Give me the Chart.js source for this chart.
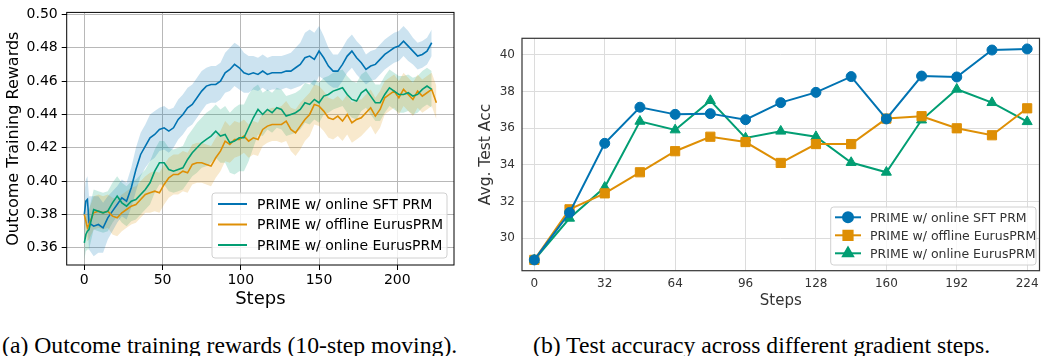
<!DOCTYPE html>
<html>
<head>
<meta charset="utf-8">
<script src="https://cdn.jsdelivr.net/npm/chart.js@4.4.1/dist/chart.umd.min.js"></script>
<style>
  body { margin: 0; background: #fff; width: 1047px; height: 356px; position: relative; overflow: hidden; }
  .box { position: absolute; }
  .cap { position: absolute; top: 333px; line-height: 24px; font-family: "Liberation Serif", "DejaVu Serif", serif; font-size: 23.7px; color: #000; white-space: nowrap; }
</style>
</head>
<body>
<div class="box" style="left:0;top:0;width:460px;height:310px"><canvas id="rewardChart" width="460" height="310"></canvas></div>
<div class="box" style="left:470px;top:0;width:577px;height:310px"><canvas id="accChart" width="577" height="310"></canvas></div>
<div class="cap" id="capA" style="left:2px">(a) Outcome training rewards (10-step moving).</div>
<div class="cap" id="capB" style="left:533px">(b) Test accuracy across different gradient steps.</div>

<script>
// ---- (a) training rewards, 10-step moving average (read every ~3 steps)
const rewardSteps = [0, 1, 2, 3, 6, 9, 12, 15, 18, 21,
  24, 27, 30, 33, 36, 39, 42, 45, 48, 51,
  54, 57, 60, 63, 66, 69, 72, 75, 78, 81,
  84, 87, 90, 93, 96, 99, 102, 105, 108, 111,
  114, 117, 120, 123, 126, 129, 132, 135, 138, 141,
  144, 147, 150, 153, 156, 159, 162, 165, 168, 171,
  174, 177, 180, 183, 186, 189, 192, 195, 198, 201,
  204, 207, 210, 213, 216, 219, 222, 225];

const sftReward = [0.380, 0.388, 0.389, 0.375, 0.373, 0.374, 0.372, 0.378, 0.382, 0.386,
  0.390, 0.388, 0.396, 0.407, 0.416, 0.421, 0.426, 0.428, 0.431, 0.432,
  0.430, 0.432, 0.437, 0.440, 0.444, 0.446, 0.450, 0.454, 0.457, 0.458,
  0.458, 0.460, 0.465, 0.467, 0.470, 0.468, 0.465, 0.464, 0.465, 0.464,
  0.466, 0.464, 0.465, 0.465, 0.465, 0.466, 0.466, 0.468, 0.470, 0.474,
  0.475, 0.473, 0.478, 0.474, 0.469, 0.466, 0.466, 0.470, 0.475, 0.478,
  0.474, 0.471, 0.467, 0.469, 0.470, 0.473, 0.476, 0.478, 0.480, 0.481,
  0.484, 0.481, 0.478, 0.475, 0.476, 0.478, 0.483];
const sftSpread = [0.012, 0.013, 0.014, 0.016, 0.018, 0.017, 0.015, 0.013, 0.012, 0.011,
  0.011, 0.011, 0.012, 0.013, 0.013, 0.013, 0.014, 0.014, 0.013, 0.013,
  0.013, 0.012, 0.012, 0.012, 0.012, 0.012, 0.012, 0.012, 0.011, 0.011,
  0.011, 0.011, 0.012, 0.013, 0.013, 0.013, 0.012, 0.011, 0.010, 0.010,
  0.010, 0.010, 0.010, 0.010, 0.010, 0.010, 0.011, 0.012, 0.013, 0.015,
  0.016, 0.016, 0.015, 0.013, 0.011, 0.010, 0.010, 0.010, 0.010, 0.010,
  0.010, 0.010, 0.009, 0.009, 0.009, 0.009, 0.009, 0.009, 0.009, 0.009,
  0.009, 0.009, 0.008, 0.008, 0.008, 0.008, 0.008];

const offlineReward = [0.380, 0.376, 0.372, 0.374, 0.381, 0.382, 0.381, 0.382, 0.379, 0.378,
  0.381, 0.383, 0.385, 0.386, 0.389, 0.392, 0.393, 0.394, 0.393, 0.398,
  0.402, 0.404, 0.404, 0.406, 0.405, 0.410, 0.411, 0.411, 0.410, 0.409,
  0.414, 0.418, 0.424, 0.422, 0.425, 0.425, 0.427, 0.424, 0.426, 0.425,
  0.431, 0.433, 0.434, 0.434, 0.434, 0.436, 0.431, 0.429, 0.433, 0.437,
  0.440, 0.446, 0.445, 0.442, 0.438, 0.437, 0.439, 0.436, 0.440, 0.435,
  0.437, 0.438, 0.441, 0.444, 0.439, 0.443, 0.450, 0.452, 0.454, 0.450,
  0.455, 0.452, 0.449, 0.454, 0.451, 0.453, 0.455, 0.447];
const offlineSpread = [0.008, 0.008, 0.008, 0.009, 0.010, 0.010, 0.010, 0.010, 0.011, 0.011,
  0.011, 0.011, 0.011, 0.011, 0.011, 0.011, 0.012, 0.012, 0.012, 0.012,
  0.012, 0.012, 0.012, 0.012, 0.012, 0.012, 0.012, 0.012, 0.012, 0.012,
  0.012, 0.012, 0.012, 0.011, 0.011, 0.010, 0.010, 0.010, 0.010, 0.010,
  0.010, 0.010, 0.010, 0.010, 0.011, 0.012, 0.013, 0.014, 0.014, 0.013,
  0.013, 0.012, 0.012, 0.012, 0.012, 0.012, 0.012, 0.012, 0.012, 0.012,
  0.012, 0.011, 0.011, 0.011, 0.011, 0.011, 0.010, 0.010, 0.010, 0.010,
  0.010, 0.010, 0.010, 0.010, 0.010, 0.010, 0.010, 0.010];

const onlineReward = [0.363, 0.368, 0.370, 0.371, 0.383, 0.382, 0.381, 0.382, 0.387, 0.391,
  0.387, 0.385, 0.388, 0.389, 0.392, 0.395, 0.399, 0.406, 0.411, 0.411,
  0.407, 0.406, 0.407, 0.408, 0.413, 0.417, 0.420, 0.423, 0.425, 0.427,
  0.430, 0.427, 0.428, 0.423, 0.424, 0.426, 0.426, 0.432, 0.438, 0.443,
  0.440, 0.443, 0.441, 0.444, 0.443, 0.439, 0.440, 0.441, 0.443, 0.447,
  0.446, 0.449, 0.447, 0.451, 0.452, 0.454, 0.455, 0.456, 0.452, 0.449,
  0.448, 0.453, 0.455, 0.451, 0.447, 0.447, 0.452, 0.456, 0.454, 0.452,
  0.452, 0.453, 0.451, 0.452, 0.455, 0.457, 0.455];
const onlineSpread = [0.010, 0.010, 0.011, 0.012, 0.012, 0.012, 0.012, 0.012, 0.012, 0.012,
  0.012, 0.012, 0.012, 0.012, 0.012, 0.012, 0.013, 0.013, 0.013, 0.013,
  0.013, 0.013, 0.013, 0.013, 0.014, 0.014, 0.015, 0.015, 0.016, 0.016,
  0.016, 0.016, 0.017, 0.018, 0.020, 0.020, 0.020, 0.020, 0.018, 0.015,
  0.013, 0.012, 0.012, 0.012, 0.012, 0.012, 0.012, 0.012, 0.012, 0.012,
  0.012, 0.012, 0.012, 0.011, 0.011, 0.011, 0.011, 0.011, 0.011, 0.011,
  0.011, 0.011, 0.011, 0.011, 0.011, 0.011, 0.011, 0.011, 0.011, 0.011,
  0.011, 0.011, 0.011, 0.011, 0.011, 0.011, 0.011];

const rewardXTicks = [0, 50, 100, 150, 200];
const rewardYTicks = [0.36, 0.38, 0.40, 0.42, 0.44, 0.46, 0.48, 0.50];

// ---- (b) test accuracy
const accSteps = [0, 16, 32, 48, 64, 80, 96, 112, 128, 144, 160, 176, 192, 208, 224];
const sftAcc = [28.82, 31.40, 35.18, 37.15, 36.76, 36.80, 36.47, 37.40, 37.96, 38.82, 36.51, 38.85, 38.80, 40.27, 40.33];
const offlineAcc = [28.82, 31.58, 32.45, 33.60, 34.75, 35.54, 35.25, 34.11, 35.14, 35.14, 36.53, 36.66, 36.00, 35.62, 37.09];
const onlineAcc = [28.82, 31.09, 32.78, 36.38, 35.91, 37.51, 35.47, 35.84, 35.54, 34.13, 33.60, 36.45, 38.13, 37.40, 36.36];
const accXTicks = [0, 32, 64, 96, 128, 160, 192, 224];
const accYTicks = [30, 32, 34, 36, 38, 40];

const labels = ["PRIME w/ online SFT PRM", "PRIME w/ offline EurusPRM", "PRIME w/ online EurusPRM"];
const BLUE = "#0173b2", ORANGE = "#de8f05", GREEN = "#029e73";

const pts = (xs, ys) => ys.map((v, i) => ({x: xs[i], y: v}));
const band = (xs, ys, sp, sign) => ys.map((v, i) => ({x: xs[i], y: v + sign * sp[i]}));
const setTicks = vals => (scale => { scale.ticks = vals.map(v => ({value: v})); });

// frame around the plot area + legend inside it
const framePlugin = {
  id: "frame",
  afterDraw(chart, args, opts) {
    const {ctx, chartArea: a} = chart;
    ctx.save();
    ctx.strokeStyle = opts.color;
    ctx.lineWidth = opts.width;
    ctx.strokeRect(a.left, a.top, a.right - a.left, a.bottom - a.top);
    ctx.restore();
  }
};

const insideLegend = {
  id: "insideLegend",
  afterDraw(chart, args, o) {
    const ctx = chart.ctx;
    ctx.save();
    ctx.fillStyle = "rgba(255,255,255,0.8)";
    ctx.strokeStyle = "#d0d0d0";
    ctx.lineWidth = 1;
    ctx.beginPath();
    ctx.roundRect(o.x, o.y, o.w, o.h, 3);
    ctx.fill();
    ctx.stroke();
    ctx.font = o.font;
    ctx.textBaseline = "middle";
    const sets = chart.data.datasets.filter(d => d.inLegend);
    sets.forEach((d, i) => {
      const y = o.rows[i];
      ctx.strokeStyle = d.borderColor;
      ctx.lineWidth = 2;
      ctx.beginPath();
      ctx.moveTo(o.x1, y);
      ctx.lineTo(o.x2, y);
      ctx.stroke();
      if (d.pointRadius > 0) {
        ctx.fillStyle = d.borderColor;
        Chart.helpers.drawPoint(ctx, {pointStyle: d.pointStyle, radius: d.pointRadius, borderWidth: 1}, (o.x1 + o.x2) / 2, y);
        ctx.fill();
      }
      ctx.fillStyle = o.color;
      ctx.fillText(d.label, o.tx, y + 1);
    });
    ctx.restore();
  }
};

Chart.defaults.font.family = "'DejaVu Sans', sans-serif";
Chart.defaults.animation = false;

// ---------- left chart
function lineSet(label, color, xs, ys, order) {
  return {label, data: pts(xs, ys), borderColor: color, borderWidth: 1.6, pointRadius: 0,
    fill: false, tension: 0, order, inLegend: true};
}
function bandSets(color, xs, ys, sp) {
  return [
    {data: band(xs, ys, sp, 1), borderWidth: 0, pointRadius: 0, fill: false, order: 10},
    {data: band(xs, ys, sp, -1), borderWidth: 0, pointRadius: 0, fill: "-1", backgroundColor: color, order: 10}
  ];
}

new Chart(document.getElementById("rewardChart"), {
  type: "line",
  data: {
    datasets: [
      ...bandSets("rgba(1,115,178,0.2)", rewardSteps, sftReward, sftSpread),
      ...bandSets("rgba(222,143,5,0.2)", rewardSteps, offlineReward, offlineSpread),
      ...bandSets("rgba(2,158,115,0.2)", rewardSteps, onlineReward, onlineSpread),
      lineSet(labels[0], BLUE, rewardSteps, sftReward, 3),
      lineSet(labels[1], ORANGE, rewardSteps, offlineReward, 2),
      lineSet(labels[2], GREEN, rewardSteps, onlineReward, 1)
    ]
  },
  options: {
    responsive: false,
    layout: {padding: {top: 9, right: 6, left: 0, bottom: 0}},
    scales: {
      x: {
        type: "linear", min: -11.25, max: 236.25,
        afterBuildTicks: setTicks(rewardXTicks),
        afterFit: s => { s.height = 45; },
        ticks: {color: "#000", font: {size: 14}, padding: 2, maxRotation: 0, callback: v => String(v)},
        grid: {color: "#b8b8b8", lineWidth: 1, tickColor: "#000", tickLength: 5},
        border: {display: false},
        title: {display: true, text: "Steps", color: "#000", font: {size: 18}, padding: 0}
      },
      y: {
        type: "linear", min: 0.3497, max: 0.5012,
        afterBuildTicks: setTicks(rewardYTicks),
        afterFit: s => { s.width = 66.7; },
        ticks: {color: "#000", font: {size: 14}, padding: 4, callback: v => v.toFixed(2)},
        grid: {color: "#b8b8b8", lineWidth: 1, tickColor: "#000", tickLength: 5},
        border: {display: false},
        title: {display: true, text: "Outcome Training Rewards", color: "#000", font: {size: 16}, padding: {top: 4, bottom: 0}}
      }
    },
    plugins: {
      legend: {display: false},
      tooltip: {enabled: false},
      filler: {drawTime: "beforeDatasetsDraw"},
      frame: {color: "#000", width: 1},
      insideLegend: {x: 212, y: 193, w: 235, h: 65, rows: [204, 224.5, 245], x1: 218, x2: 247, tx: 257,
        font: "14px 'DejaVu Sans'", color: "#000"}
    }
  },
  plugins: [framePlugin, insideLegend]
});

// ---------- right chart
function accSet(label, color, ys, style, radius, order) {
  return {label, data: pts(accSteps, ys), borderColor: color, backgroundColor: color, borderWidth: 2,
    pointStyle: style, pointRadius: radius, pointBorderWidth: 1, pointBorderColor: color,
    fill: false, tension: 0, order, inLegend: true};
}

new Chart(document.getElementById("accChart"), {
  type: "line",
  data: {
    datasets: [
      accSet(labels[0], BLUE, sftAcc, "circle", 5, 1),
      accSet(labels[1], ORANGE, offlineAcc, "rect", 6.5, 2),
      accSet(labels[2], GREEN, onlineAcc, "triangle", 5.8, 3)
    ]
  },
  options: {
    responsive: false,
    layout: {padding: {top: 38.3, right: 5, left: 0, bottom: 0}},
    scales: {
      x: {
        type: "linear", min: -5.6, max: 229.6,
        afterBuildTicks: setTicks(accXTicks),
        afterFit: s => { s.height = 39.3; },
        ticks: {color: "#333", font: {size: 12}, padding: 6, maxRotation: 0, callback: v => String(v)},
        grid: {color: "#dcdcdc", lineWidth: 1, drawTicks: false},
        border: {display: false},
        title: {display: true, text: "Steps", color: "#333", font: {size: 15}, padding: 0}
      },
      y: {
        type: "linear", min: 28.23, max: 40.91,
        afterBuildTicks: setTicks(accYTicks),
        afterFit: s => { s.width = 52; },
        ticks: {color: "#333", font: {size: 12}, padding: 7, callback: v => String(v)},
        grid: {color: "#dcdcdc", lineWidth: 1, drawTicks: false},
        border: {display: false},
        title: {display: true, text: "Avg. Test Acc", color: "#333", font: {size: 15.5}, padding: {top: 7, bottom: 0}}
      }
    },
    plugins: {
      legend: {display: false},
      tooltip: {enabled: false},
      frame: {color: "#333", width: 1.2},
      insideLegend: {x: 360.7, y: 207, w: 205.3, h: 58, rows: [217.3, 235.3, 253.3], x1: 365, x2: 391, tx: 400,
        font: "12.5px 'DejaVu Sans'", color: "#333"}
    }
  },
  plugins: [framePlugin, insideLegend]
});
</script>
</body>
</html>
